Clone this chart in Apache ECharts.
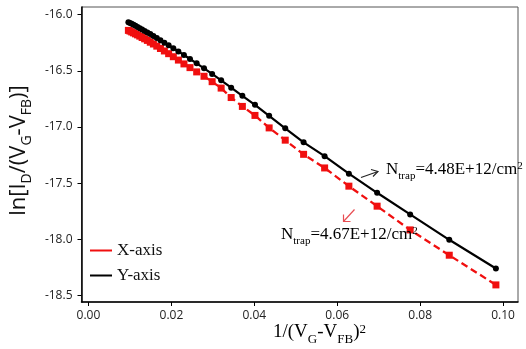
<!DOCTYPE html>
<html>
<head>
<meta charset="utf-8">
<script src="https://cdn.jsdelivr.net/npm/echarts@6/dist/echarts.min.js"></script>
<style>
html,body{margin:0;padding:0;background:#fff;}
#c{width:526px;height:349px;}
</style>
</head>
<body>
<div id="c"></div>
<script>
// 1/(VG-VFB)^2 values
var xVals = [0.00963,0.01002,0.01043,0.01087,0.01134,0.01184,0.01237,0.01294,0.01355,0.01421,
  0.01491,0.01566,0.01648,0.01736,0.01831,0.01934,0.02047,0.02169,0.02303,0.02449,
  0.02610,0.02787,0.02983,0.03200,0.03442,0.03712,0.04016,0.04358,0.04746,0.05189,
  0.05696,0.06281,0.06962,0.07759,0.08702,0.09827];
// Y-axis series (black)
var yAxisSeries = [-16.069,-16.076,-16.083,-16.091,-16.100,-16.110,-16.121,-16.133,-16.146,-16.159,
  -16.173,-16.190,-16.209,-16.229,-16.250,-16.273,-16.300,-16.328,-16.360,-16.395,
  -16.434,-16.478,-16.528,-16.585,-16.650,-16.723,-16.803,-16.901,-17.012,-17.136,
  -17.259,-17.415,-17.585,-17.777,-18.003,-18.258];
// X-axis series (red)
var xAxisSeries = [-16.141,-16.147,-16.155,-16.163,-16.172,-16.181,-16.192,-16.204,-16.216,-16.230,
  -16.246,-16.262,-16.281,-16.302,-16.324,-16.348,-16.375,-16.405,-16.439,-16.472,
  -16.510,-16.549,-16.597,-16.654,-16.738,-16.817,-16.897,-17.008,-17.117,-17.243,
  -17.364,-17.526,-17.704,-17.915,-18.140,-18.404];
var xTicks = [0.00,0.02,0.04,0.06,0.08,0.10];
var yTicks = [-16.0,-16.5,-17.0,-17.5,-18.0,-18.5];
var seriesNames = ['X-axis','Y-axis'];
var annot1 = ['N','trap','=4.48E+12/cm','2'];
var annot2 = ['N','trap','=4.67E+12/cm','2'];

function pairs(xs, ys){ return xs.map(function(x,i){ return [x, ys[i]]; }); }

var chart = echarts.init(document.getElementById('c'));
var serif = '"Liberation Serif", "Times New Roman", serif';
var sans = '"Open Sans", "DejaVu Sans", sans-serif';

function richSet(fam, big, small){
  return {
    m:{fontFamily:fam,fontSize:big,color:'#111',lineHeight:big,padding:[0,0,4,0],verticalAlign:'bottom'},
    s:{fontFamily:fam,fontSize:small,color:'#111',lineHeight:small,verticalAlign:'bottom'},
    p:{fontFamily:fam,fontSize:small,color:'#111',lineHeight:small,padding:[0,0,big-small+4,0],verticalAlign:'bottom'}
  };
}

chart.setOption({
  animation:false,
  backgroundColor:'#fff',
  grid:{left:79,top:7,right:8,bottom:47,show:true,borderColor:'#555',borderWidth:1,backgroundColor:'transparent'},
  xAxis:{
    type:'value', min:-0.00168, max:0.1036,
    splitLine:{show:false},
    axisLine:{onZero:false,lineStyle:{color:'#000',width:1.5}},
    axisTick:{show:true,inside:false,length:4,customValues:xTicks,lineStyle:{color:'#000'}},
    axisLabel:{customValues:xTicks,formatter:function(v){return v.toFixed(2);},fontFamily:sans,fontSize:12,color:'#222',margin:8}
  },
  yAxis:{
    type:'value', min:-18.556, max:-15.933,
    name:'{m|ln[I}{s|D}{m|/(V}{s|G}{m|-V}{s|FB}{m|)]}',
    nameLocation:'middle', nameRotate:90, nameGap:44,
    nameTextStyle:{rich:richSet(sans,22,14), padding:[0,0,0,8]},
    splitLine:{show:false},
    axisLine:{onZero:false,lineStyle:{color:'#000',width:1.5}},
    axisTick:{show:true,inside:false,length:4,customValues:yTicks,lineStyle:{color:'#000'}},
    axisLabel:{customValues:yTicks,formatter:function(v){return v.toFixed(1);},fontFamily:sans,fontSize:12,color:'#222',margin:9}
  },
  legend:{
    orient:'vertical', left:85, top:237, itemGap:8,
    itemWidth:22, itemHeight:2,
    textStyle:{fontFamily:serif,fontSize:17,color:'#111'},
    data:[{name:seriesNames[0],icon:'rect'},{name:seriesNames[1],icon:'rect'}]
  },
  series:[
    {name:seriesNames[0],type:'line',data:pairs(xVals,xAxisSeries),symbol:'rect',symbolSize:7,
     itemStyle:{color:'#f00f0f'},lineStyle:{color:'#f00f0f',width:2.3,type:[7,4]}},
    {name:seriesNames[1],type:'line',data:pairs(xVals,yAxisSeries),symbol:'circle',symbolSize:6,
     itemStyle:{color:'#000'},lineStyle:{color:'#000',width:2.2}}
  ],
  graphic:[
    {type:'text',z:100,left:273,top:323,style:{text:'{m|1/(V}{s|G}{m|-V}{s|FB}{m|)}{p|2}',rich:richSet(serif,19,13)}},
    {type:'text',z:100,left:386,top:161,style:{text:'{m|'+annot1[0]+'}{s|'+annot1[1]+'}{m|'+annot1[2]+'}{p|'+annot1[3]+'}',rich:richSet(serif,17,11)}},
    {type:'text',z:100,left:281,top:226,style:{text:'{m|'+annot2[0]+'}{s|'+annot2[1]+'}{m|'+annot2[2]+'}{p|'+annot2[3]+'}',rich:richSet(serif,17,11)}},
    {type:'line',z:100,shape:{x1:361,y1:177.5,x2:378,y2:171.5},style:{stroke:'#222',lineWidth:1.1}},
    {type:'polyline',z:100,shape:{points:[[371,169.5],[378,171.5],[373,176.5]]},style:{stroke:'#222',lineWidth:1.1,fill:null}},
    {type:'line',z:100,shape:{x1:354.5,y1:209.5,x2:343.5,y2:221.5},style:{stroke:'#e84c52',lineWidth:1.2}},
    {type:'polyline',z:100,shape:{points:[[343.5,214.5],[343.5,221.5],[350.5,221.5]]},style:{stroke:'#e84c52',lineWidth:1.2,fill:null}}
  ]
});
</script>
</body>
</html>
